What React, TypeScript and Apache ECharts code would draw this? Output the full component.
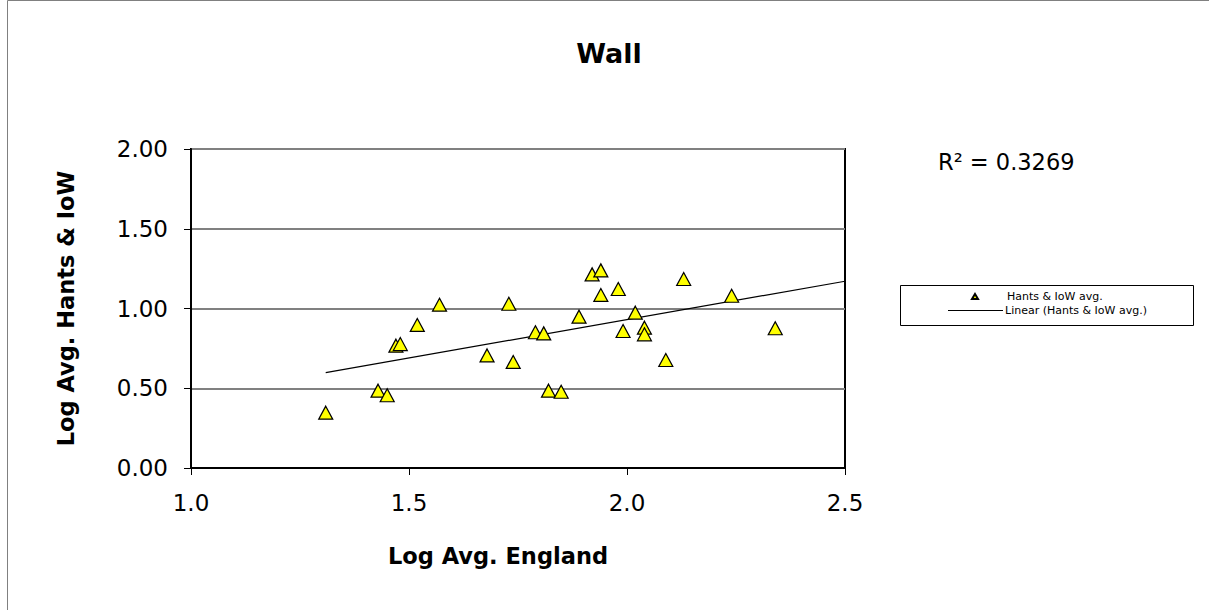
import React, { useEffect, useRef } from "react";
import * as echarts from "echarts";

const englandLog = [1.309, 1.429, 1.45, 1.47, 1.48, 1.519, 1.57, 1.729, 1.679, 1.739, 1.79, 1.809, 1.82, 1.849, 1.89, 1.92, 1.94, 1.94, 1.98, 1.991, 2.019, 2.04, 2.04, 2.089, 2.13, 2.24, 2.34];
const hantsLog = [0.347, 0.485, 0.456, 0.767, 0.777, 0.897, 1.024, 1.03, 0.706, 0.665, 0.851, 0.844, 0.485, 0.478, 0.949, 1.214, 1.239, 1.085, 1.122, 0.859, 0.974, 0.88, 0.838, 0.677, 1.185, 1.08, 0.876];
const trendX = [1.309, 2.5];
const trendY = [0.598, 1.171];
const xTicks = [1.0, 1.5, 2.0, 2.5];
const yTicks = [0, 0.5, 1.0, 1.5, 2.0];
const seriesName = "Hants & IoW avg.";
const trendName = "Linear (Hants & IoW avg.)";
const r2Label = "R² = 0.3269";

const FONT = "'DejaVu Sans', 'Liberation Sans', Arial, sans-serif";

export default function App() {
  const ref = useRef<HTMLDivElement>(null);
  useEffect(() => {
    document.body.style.margin = "0";
    const chart = echarts.init(ref.current!, null, { renderer: "svg" });
    chart.setOption({
      animation: false,
      backgroundColor: "#fff",
      textStyle: { fontFamily: FONT },
      title: {
        text: "Wall",
        left: 604,
        top: 35,
        textAlign: "center",
        textStyle: { fontSize: 27, fontWeight: "bold", color: "#000", fontFamily: FONT },
      },
      grid: {
        left: 191,
        top: 149,
        width: 654,
        height: 319,
        show: true,
        borderColor: "#000",
        borderWidth: 2,
        backgroundColor: "transparent",
      },
      xAxis: {
        type: "value",
        min: xTicks[0],
        max: xTicks[xTicks.length - 1],
        interval: 0.5,
        name: "Log Avg. England",
        nameLocation: "middle",
        nameGap: 76,
        nameTextStyle: { fontSize: 22.5, fontWeight: "bold", color: "#000", fontFamily: FONT, padding: [0, 40, 0, 0] },
        axisLine: { show: true, lineStyle: { color: "#000", width: 2 } },
        axisTick: { show: true, inside: false, length: 7, lineStyle: { color: "#000", width: 1 } },
        axisLabel: { fontSize: 23, color: "#000", margin: 23, formatter: (v: number) => v.toFixed(1), fontFamily: FONT },
        splitLine: { show: false },
      },
      yAxis: {
        type: "value",
        min: yTicks[0],
        max: yTicks[yTicks.length - 1],
        interval: 0.5,
        name: "Log Avg. Hants & IoW",
        nameLocation: "middle",
        nameGap: 114,
        nameRotate: 90,
        nameTextStyle: { fontSize: 22.5, fontWeight: "bold", color: "#000", fontFamily: FONT },
        axisLine: { show: true, lineStyle: { color: "#000", width: 2 } },
        axisTick: { show: true, inside: false, length: 7, lineStyle: { color: "#000", width: 1 } },
        axisLabel: { fontSize: 23, color: "#000", margin: 23, formatter: (v: number) => v.toFixed(2), fontFamily: FONT },
        splitLine: { show: true, lineStyle: { color: "#808080", width: 2 } },
      },
      legend: [
        {
          data: [{ name: seriesName, icon: "triangle" }],
          left: 971,
          top: 291,
          itemWidth: 6,
          itemHeight: 5,
          itemGap: 0,
          padding: 0,
          textStyle: { fontSize: 11, color: "#000", padding: [0, 0, 0, 24], fontFamily: FONT },
          selectedMode: false,
        },
        {
          data: [{ name: trendName, icon: "rect" }],
          left: 948,
          top: 305,
          itemWidth: 55,
          itemHeight: 1,
          itemGap: 0,
          padding: 0,
          textStyle: { fontSize: 11, color: "#000", padding: [0, 0, 0, -3], fontFamily: FONT },
          selectedMode: false,
        },
      ],
      graphic: [
        {
          type: "rect",
          shape: { x: 7.5, y: 0.5, width: 1300, height: 700 },
          style: { fill: "none", stroke: "#808080", lineWidth: 1 },
          silent: true,
          z: -10,
        },
        {
          type: "rect",
          shape: { x: 900.5, y: 285.5, width: 293, height: 40 },
          style: { fill: "none", stroke: "#000", lineWidth: 1 },
          silent: true,
        },
        {
          type: "text",
          left: 938,
          top: 150,
          style: { text: r2Label, fontSize: 22.5, fill: "#000", fontFamily: FONT },
        },
      ],
      series: [
        {
          name: trendName,
          type: "line",
          data: trendX.map((x, i) => [x, trendY[i]]),
          symbol: "none",
          lineStyle: { color: "#000", width: 1.2 },
          itemStyle: { color: "#000" },
          z: 1,
        },
        {
          name: seriesName,
          type: "scatter",
          data: englandLog.map((x, i) => [x, hantsLog[i]]),
          symbol: "triangle",
          symbolSize: [14, 13],
          itemStyle: { color: "#FFFF00", borderColor: "#000", borderWidth: 1.2, opacity: 1 },
          z: 3,
        },
      ],
    });
    return () => chart.dispose();
  }, []);
  return <div ref={ref} style={{ width: 1209, height: 610 }} />;
}
